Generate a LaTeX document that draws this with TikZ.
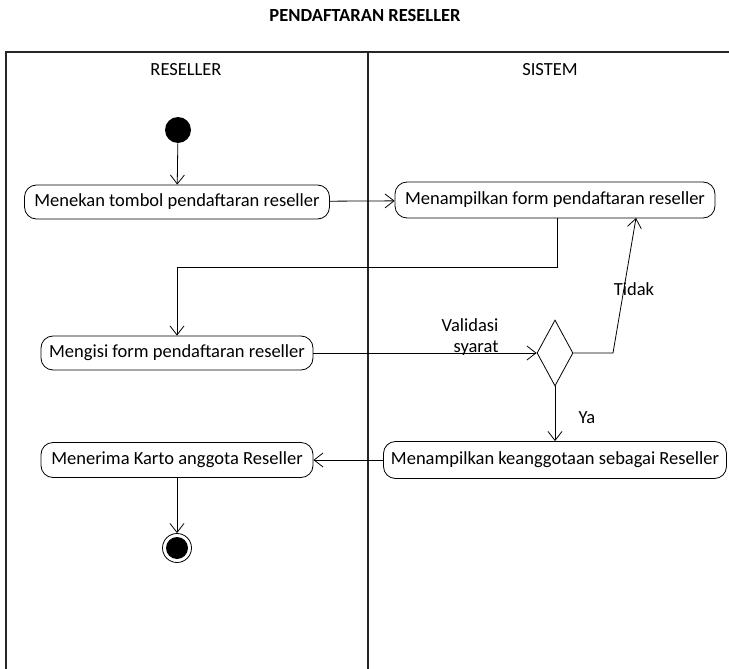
\documentclass[tikz,border=0pt]{standalone}
\usepackage{fontspec}
\setmainfont{Carlito}
\usetikzlibrary{arrows.meta,shapes.geometric}
\begin{document}
\begin{tikzpicture}[x=1pt,y=-1pt,line width=0.8pt,
  act/.style={draw,rounded corners=12pt,minimum height=34pt,inner xsep=4pt,font=\fontsize{18.5}{21}\selectfont},
  flow/.style={-{Straight Barb[length=9pt,width=14pt]}},
  lbl/.style={font=\fontsize{18.5}{21}\selectfont},
  lane/.style={line width=1.3pt,draw=black!85}]
\useasboundingbox (0,0) rectangle (729,669);
% title and swimlanes
\node[font=\bfseries\fontsize{18.5}{21}\selectfont] (title) at (365,15) {PENDAFTARAN RESELLER};
\draw[lane] (6,669) -- (6,52) -- (729,52);
\draw[lane] (368,52) -- (368,669);
\node[lbl] (laneA) at (186,70) {RESELLER};
\node[lbl] (laneB) at (550,70) {SISTEM};
% nodes
\node[circle,fill=black,minimum size=26pt,inner sep=0pt] (start) at (178,130) {};
\node[act,minimum width=305pt] (a1) at (177,202) {Menekan tombol pendaftaran reseller};
\node[act,minimum width=320pt,minimum height=36pt] (a2) at (555,200) {Menampilkan form pendaftaran reseller};
\node[act,minimum width=272pt] (a3) at (177,353) {Mengisi form pendaftaran reseller};
\node[diamond,draw,aspect=0.55,minimum width=36pt,minimum height=66pt,inner sep=0pt] (dec) at (555,353) {};
\node[act,minimum width=343pt,minimum height=37pt] (a4) at (555,460) {Menampilkan keanggotaan sebagai Reseller};
\node[act,minimum width=272pt,minimum height=35pt] (a5) at (177,460) {Menerima Karto anggota Reseller};
\node[circle,draw,minimum size=29pt,inner sep=0pt] (stop) at (177,548) {};
\node[circle,fill=black,minimum size=22pt,inner sep=0pt] (stopin) at (177,548) {};
% connectors
\coordinate (t1) at (557,267);
\coordinate (t2) at (177,267);
\coordinate (n1) at (613,353);
\draw[flow] (start) -- (a1);
\draw[flow] (a1) -- (a2);
\draw[flow] (a2.south -| t1) -- (t1) -- (t2) -- (a3.north -| t2);
\draw[flow] (a3) -- (dec.west);
\draw[flow] (dec.east) -- (n1) -- (636,218);
\draw[flow] (dec.south) -- (a4.north -| dec.south);
\draw[flow] (a4) -- (a5);
\draw[flow] (a5) -- (stop);
% labels
\node[lbl,align=right] (lv) at (470,337) {Validasi\\syarat};
\node[lbl] (lt) at (634,289) {Tidak};
\node[lbl] (ly) at (587,418) {Ya};
\end{tikzpicture}
\end{document}
